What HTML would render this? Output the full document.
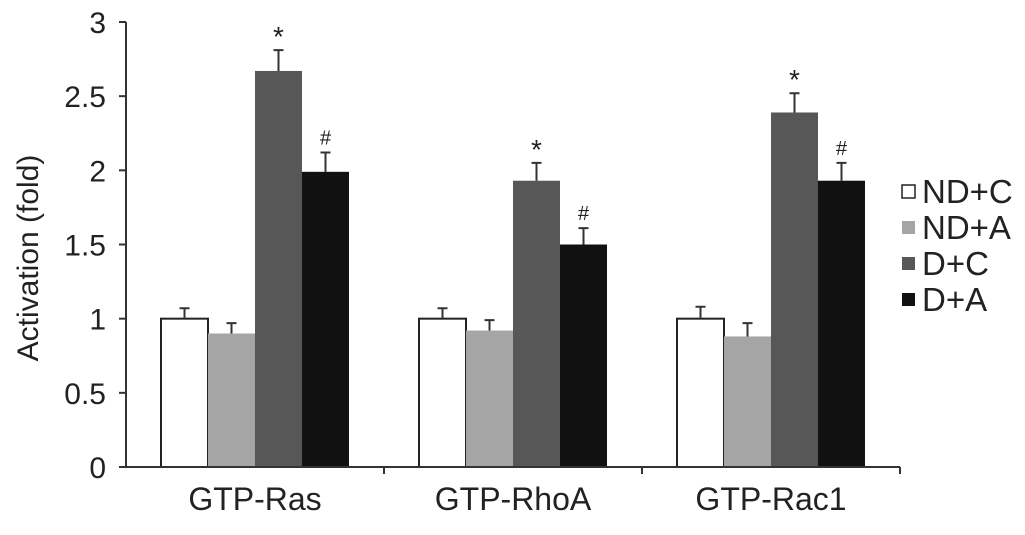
<!DOCTYPE html>
<html><head><meta charset="utf-8"><style>
body{margin:0;background:#fff;}
svg{display:block;font-family:"Liberation Sans",Arial,sans-serif;}
</style></head><body>
<svg id="chart" width="1025" height="535"></svg>
<script>
const categories=["GTP-Ras","GTP-RhoA","GTP-Rac1"];
const seriesNames=["ND+C","ND+A","D+C","D+A"];
const ndc=[1.0,1.0,1.0];
const nda=[0.9,0.92,0.88];
const dc=[2.67,1.93,2.39];
const da=[1.99,1.5,1.93];
const ndcErr=[0.07,0.07,0.08];
const ndaErr=[0.07,0.07,0.09];
const dcErr=[0.14,0.12,0.13];
const daErr=[0.13,0.11,0.12];
const marks=["","","*","#"];
const yTicks=[0,0.5,1,1.5,2,2.5,3];
const yTickLabels=["0","0.5","1","1.5","2","2.5","3"];
const colors=["#ffffff","#a5a5a5","#575757","#111111"];
const svg=document.getElementById('chart');
const NS="http://www.w3.org/2000/svg";
const x0=126,x1=900,yBase=467,yTop=22,yMax=3;
function yS(v){return yBase-(v/yMax)*(yBase-yTop);}
const groupW=(x1-x0)/categories.length, barW=47;
function xS(ci,si){return x0+groupW*ci+groupW/2-2*barW+si*barW;}
function mk(tag,attrs,parent){const e=document.createElementNS(NS,tag);for(const k in attrs)e.setAttribute(k,attrs[k]);(parent||svg).appendChild(e);return e;}
const series=[ndc,nda,dc,da], errs=[ndcErr,ndaErr,dcErr,daErr];
categories.forEach((c,ci)=>{
  series.forEach((s,si)=>{
    const x=xS(ci,si),v=s[ci],e=errs[si][ci];
    const r=mk('rect',{x:x,y:yS(v),width:barW,height:yBase-yS(v),fill:colors[si],stroke:si==0?"#222":"none","stroke-width":2});
    
    
    const cx=x+barW/2;
    const l=mk('path',{d:`M${cx},${yS(v)}V${yS(v+e)}M${cx-5},${yS(v+e)}H${cx+5}`,stroke:"#333","stroke-width":2,fill:"none"});
    
    
    if(marks[si]){
      const t=mk('text',{x:cx,y:yS(v+e)-(si==2?4:8),"text-anchor":"middle","font-size":si==2?28:20,fill:"#222"});
      t.textContent=marks[si];
      
      
    }
  });
  const t=mk('text',{x:x0+groupW*ci+groupW/2,y:510,"text-anchor":"middle","font-size":32,fill:"#222"});
  t.textContent=c;
  
  
});
const ax=mk('path',{d:`M${x0},${yTop}V${yBase}H${x1}`,stroke:"#333","stroke-width":2,fill:"none"});


yTicks.forEach((v,i)=>{
  const tk=mk('path',{d:`M${x0-7},${yS(v)}H${x0}`,stroke:"#333","stroke-width":2});
  
  
  const t=mk('text',{x:106,y:yS(v)+11,"text-anchor":"end","font-size":30,fill:"#222"});
  t.textContent=yTickLabels[i];
  
  
});
for(let i=1;i<=categories.length;i++){
  const tk=mk('path',{d:`M${x0+groupW*i},${yBase}V${yBase+7}`,stroke:"#333","stroke-width":2});
  
  
}
const yt=mk('text',{x:0,y:0,transform:"translate(38,258) rotate(-90)","text-anchor":"middle","font-size":30,fill:"#222"});
yt.textContent="Activation (fold)";


seriesNames.forEach((n,i)=>{
  const y=191+i*36;
  const r=mk('rect',{x:902,y:y-6,width:13,height:13,fill:colors[i],stroke:i==0?"#222":"none","stroke-width":1.5});
  
  
  const t=mk('text',{x:922,y:y+12,"font-size":33,fill:"#222"});
  t.textContent=n;
  
  
});
</script>
</body></html>
